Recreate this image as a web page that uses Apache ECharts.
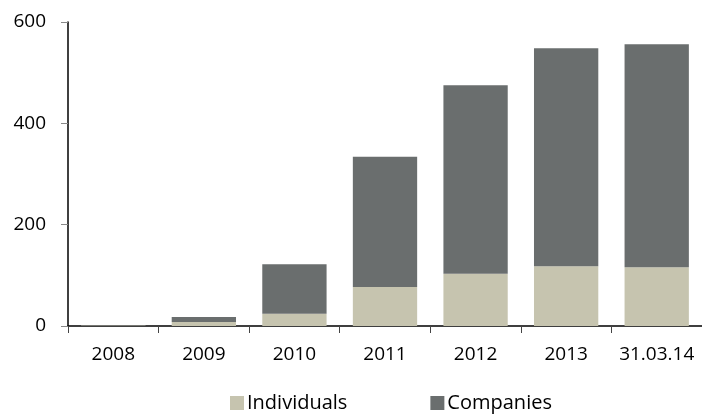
<!DOCTYPE html>
<html>
<head>
<meta charset="utf-8">
<script src="https://cdn.jsdelivr.net/npm/echarts@6/dist/echarts.min.js"></script>
<style>
  html, body {margin:0; padding:0; background:#fff;}
  #chart {width:702px; height:414px;}
</style>
</head>
<body>
<div id="chart"></div>
<script>
// data
let categories = ["2008", "2009", "2010", "2011", "2012", "2013", "31.03.14"];
let individuals = [1, 8, 24, 77, 103, 118, 116];
let companies = [1, 10, 98, 257, 372, 430, 440];
let yTicks = [0, 200, 400, 600];

let font = "'Open Sans', sans-serif";

let chart = echarts.init(document.getElementById("chart"));
let options = {
    backgroundColor: '#fff',
    animation: false,
    textStyle: {fontFamily: font},
    grid: {left: 68, right: 0, top: 22, bottom: 88, containLabel: false},
    legend: {
        data: ["Individuals", "Companies"],
        left: 225, top: 388,
        itemWidth: 14, itemHeight: 14, itemGap: 83,
        icon: 'rect',
        textStyle: {fontSize: 20, color: '#000', fontFamily: font, padding: [0, 0, 0, -2]}
    },
    xAxis: {
        type: 'category',
        data: categories,
        axisLine: {lineStyle: {color: '#000', width: 1.5}},
        axisTick: {show: true, length: 7, lineStyle: {color: '#444'}},
        axisLabel: {interval: 0, fontSize: 19, color: '#000', margin: 19, fontFamily: font}
    },
    yAxis: {
        type: 'value',
        min: yTicks[0], max: yTicks[yTicks.length - 1], interval: 200,
        axisLine: {show: true, lineStyle: {color: '#000', width: 1.5}},
        axisTick: {show: true, length: 7, lineStyle: {color: '#888'}},
        splitLine: {show: false},
        axisLabel: {fontSize: 19, color: '#000', margin: 22, fontFamily: font}
    },
    series: [
        {
            name: "Individuals", type: 'bar', stack: 'total',
            data: individuals, barWidth: '71%',
            itemStyle: {color: '#c6c4af'}
        },
        {
            name: "Companies", type: 'bar', stack: 'total',
            data: companies, barWidth: '71%',
            itemStyle: {color: '#6a6e6e'}
        }
    ]
};
chart.setOption(options);
</script>
</body>
</html>
